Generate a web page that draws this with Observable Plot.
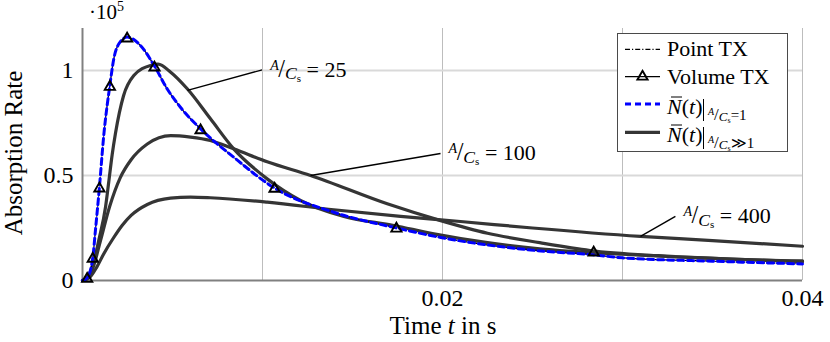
<!DOCTYPE html>
<html>
<head>
<meta charset="utf-8">
<script src="https://cdn.jsdelivr.net/npm/d3@7"></script>
<script src="https://cdn.jsdelivr.net/npm/@observablehq/plot@0.6"></script>
<style>
  html, body { margin: 0; padding: 0; background: #fff; }
  #wrap { position: relative; width: 830px; height: 342px; font-family: 'Liberation Serif', 'DejaVu Serif', serif; }
  #legend { position: absolute; left: 617px; top: 33px; width: 171px; height: 119px; }
  #wrap svg text { font-family: 'Liberation Serif', 'DejaVu Serif', serif; }
</style>
</head>
<body>
<div id="wrap"></div>
<script>
// ---------- data (values in units of 10^5) ----------
const xTicks = [0.02, 0.04];
const xGrid = [0.01, 0.02, 0.03, 0.04];
const yTicks = [0, 0.5, 1];
const yGrid = [0.5, 1];

// N(t) | A/Cs = 1 (blue dashed)
const blueT = [0, 0.00026, 0.00057, 0.00072, 0.00094, 0.00118, 0.00152, 0.00174, 0.00202, 0.00248, 0.0028, 0.00322, 0.004, 0.0047, 0.00544, 0.00656, 0.0084, 0.01067, 0.01396, 0.01744, 0.0199, 0.0249, 0.0284, 0.03, 0.035, 0.04];
const blueV = [0, 0.013, 0.108, 0.24, 0.444, 0.69, 0.929, 1.056, 1.127, 1.159, 1.15, 1.119, 1.021, 0.913, 0.825, 0.722, 0.587, 0.44, 0.325, 0.25, 0.205, 0.145, 0.122, 0.108, 0.092, 0.079];

// Point TX (dash-dot, underneath the blue curve)
const pointT = [0, 0.00026, 0.00057, 0.00072, 0.00094, 0.00118, 0.00152, 0.00174, 0.00202, 0.00248, 0.0028, 0.00322, 0.004, 0.0047, 0.00544, 0.00656, 0.0084, 0.01067, 0.01396, 0.01744, 0.0199, 0.0249, 0.0284, 0.03, 0.035, 0.04];
const pointV = [0, 0.013, 0.108, 0.24, 0.444, 0.69, 0.929, 1.056, 1.127, 1.159, 1.15, 1.119, 1.021, 0.913, 0.825, 0.722, 0.587, 0.44, 0.325, 0.25, 0.205, 0.145, 0.122, 0.108, 0.092, 0.079];

// Volume TX (triangle markers)
const volT = [0.00026, 0.00057, 0.00094, 0.00152, 0.00248, 0.0040, 0.00656, 0.01067, 0.01744, 0.0284];
const volV = [0.008, 0.103, 0.438, 0.922, 1.152, 1.014, 0.715, 0.437, 0.247, 0.133];

// N(t) | A/Cs >> 1, three ratios
const c25T = [0, 0.0003, 0.0006, 0.0009, 0.00128, 0.00146, 0.00165, 0.00183, 0.00228, 0.00285, 0.00378, 0.0042, 0.0049, 0.00582, 0.00711, 0.0084, 0.01026, 0.01211, 0.01452, 0.0173, 0.01952, 0.0225, 0.0254, 0.03, 0.035, 0.04];
const c25V = [0, 0.02, 0.08, 0.19, 0.35, 0.47, 0.6, 0.7, 0.88, 0.976, 1.024, 1.03, 0.992, 0.913, 0.77, 0.627, 0.484, 0.381, 0.305, 0.262, 0.222, 0.18, 0.151, 0.125, 0.105, 0.09];

const c100T = [0, 0.0003, 0.0006, 0.001, 0.0015, 0.0021, 0.0027, 0.0036, 0.0049, 0.006, 0.0071, 0.0084, 0.01026, 0.01267, 0.01693, 0.0199, 0.0225, 0.0254, 0.0282, 0.032, 0.036, 0.04];
const c100V = [0, 0.012, 0.065, 0.19, 0.35, 0.49, 0.575, 0.65, 0.69, 0.683, 0.667, 0.627, 0.565, 0.5, 0.365, 0.285, 0.225, 0.18, 0.143, 0.118, 0.102, 0.093];

const c400T = [0, 0.0004, 0.0008, 0.0012, 0.0017, 0.0022, 0.0027, 0.0036, 0.00489, 0.006, 0.0071, 0.01026, 0.01396, 0.01767, 0.021, 0.025, 0.031, 0.035, 0.04];
const c400V = [0, 0.015, 0.065, 0.13, 0.2, 0.262, 0.31, 0.362, 0.392, 0.397, 0.394, 0.373, 0.337, 0.305, 0.281, 0.25, 0.21, 0.19, 0.163];

// annotations: label, point on curve, end of leader line
const annLabel = ["25", "100", "400"];
const annCurveT = [0.00583, 0.01267, 0.031];
const annCurveV = [0.905, 0.5, 0.21];
const annTextT = [0.00998, 0.01989, 0.03294];
const annTextV = [1.003, 0.605, 0.305];

// ---------- build tables ----------
const rows = (T, V, k) => T.map((t, i) => ({t, v: V[i], k}));
const darkRows = [...rows(c25T, c25V, "25"), ...rows(c100T, c100V, "100"), ...rows(c400T, c400V, "400")];
const blueRows = rows(blueT, blueV, "blue");
const pointRows = rows(pointT, pointV, "point");
const volRows = rows(volT, volV, "vol");
const ann = annLabel.map((label, i) => ({label, ct: annCurveT[i], cv: annCurveV[i], tt: annTextT[i], tv: annTextV[i]}));

const FONT = "'Liberation Serif', 'DejaVu Serif', serif";

const plot = Plot.plot({
  width: 830,
  height: 342,
  marginLeft: 82,
  marginRight: 28,
  marginTop: 28,
  marginBottom: 62,
  x: {domain: [0, 0.04], label: null},
  y: {domain: [0, 1.2], label: null},
  style: {fontFamily: FONT, fontSize: "24px", background: "#fff", color: "#000", overflow: "visible"},
  marks: [
    Plot.gridX(xGrid, {stroke: "#bdbdbd", strokeOpacity: 1, strokeWidth: 1}),
    Plot.gridY(yGrid, {stroke: "#d9d9d9", strokeOpacity: 1, strokeWidth: 2}),
    Plot.ruleX([0], {stroke: "#808080", strokeWidth: 2}),
    Plot.ruleY([0], {stroke: "#808080", strokeWidth: 2}),
    Plot.axisX(xTicks, {tickSize: 0, tickPadding: 8, tickFormat: d => String(d), fontSize: 24, label: null}),
    Plot.axisY(yTicks, {tickSize: 0, tickPadding: 9, tickFormat: d => String(d), fontSize: 24, label: null}),
    Plot.line(darkRows, {x: "t", y: "v", z: "k", stroke: "#353535", strokeWidth: 3.2, curve: "monotone-x"}),
    Plot.link(ann, {x1: "ct", y1: "cv", x2: "tt", y2: "tv", stroke: "#000", strokeWidth: 1.4}),
    Plot.text(ann, {x: "tt", y: "tv", text: "label", textAnchor: "start", dx: 8, fontSize: 22}),
    Plot.line(pointRows, {x: "t", y: "v", stroke: "#000", strokeWidth: 1.2, strokeDasharray: "5,2,1.2,2", curve: "monotone-x"}),
    Plot.line(blueRows, {x: "t", y: "v", stroke: "#0000ff", strokeWidth: 3, strokeDasharray: "6,4", curve: "monotone-x"}),
    Plot.dot(volRows, {x: "t", y: "v", symbol: "triangle", r: 3.8, stroke: "#000", strokeWidth: 1.9, fill: "none"})
  ]
});

document.getElementById("wrap").appendChild(plot);
const svg = d3.select(plot);

// math-style ratio label "A/Cs = n"
function ratioLabel(sel, rest, size) {
  sel.text(null);
  sel.append("tspan").attr("font-style", "italic").attr("font-size", size * 0.64).attr("dy", -size * 0.32).text("A");
  sel.append("tspan").attr("font-size", size * 1.1).attr("dy", size * 0.32).attr("dx", -0.5).text("/");
  sel.append("tspan").attr("font-style", "italic").attr("font-size", size * 0.8).attr("dy", size * 0.1).text("C");
  sel.append("tspan").attr("font-size", size * 0.5).attr("dy", size * 0.12).text("s");
  sel.append("tspan").attr("font-size", size).attr("dy", -size * 0.22).text("\u00a0=\u00a0" + rest);
}
svg.selectAll('g[aria-label="text"] text').each(function () {
  const s = d3.select(this);
  ratioLabel(s, s.text(), 22);
});

// axis titles and scale factor
svg.append("text")
  .attr("transform", "translate(22,153) rotate(-90)")
  .attr("text-anchor", "middle").attr("font-size", 25).attr("fill", "#000")
  .text("Absorption Rate");
const xt = svg.append("text").attr("x", 443).attr("y", 334)
  .attr("text-anchor", "middle").attr("font-size", 25).attr("fill", "#000");
xt.append("tspan").text("Time ");
xt.append("tspan").attr("font-style", "italic").text("t");
xt.append("tspan").text(" in s");
const sf = svg.append("text").attr("x", 89).attr("y", 19).attr("text-anchor", "start").attr("font-size", 21).attr("fill", "#000");
sf.append("tspan").text("\u00b710");
sf.append("tspan").attr("font-size", 14).attr("dy", -8).text("5");

// ---------- legend (overlay) ----------
const leg = d3.select("#wrap").append("div").attr("id", "legend")
  .append("svg").attr("width", 171).attr("height", 119)
  .attr("text-anchor", "start")
  .style("font-family", FONT);
leg.append("rect").attr("x", 0.5).attr("y", 0.5).attr("width", 170).attr("height", 118)
  .attr("fill", "#fff").attr("stroke", "#4a4a4a").attr("stroke-width", 1);

const rowY = [16.3, 43.7, 71, 99.3];
const baseY = [23, 50.5, 81, 109];
// swatches
leg.append("line").attr("x1", 8).attr("x2", 43).attr("y1", rowY[0]).attr("y2", rowY[0])
  .attr("stroke", "#000").attr("stroke-width", 1.2).attr("stroke-dasharray", "5,2,1.2,2");
leg.append("line").attr("x1", 8).attr("x2", 43).attr("y1", rowY[1]).attr("y2", rowY[1])
  .attr("stroke", "#000").attr("stroke-width", 1.3);
leg.append("path").attr("transform", `translate(25.5,${rowY[1]})`)
  .attr("d", d3.symbol(d3.symbolTriangle, Math.PI * 3.8 * 3.8)())
  .attr("fill", "none").attr("stroke", "#000").attr("stroke-width", 1.9);
leg.append("line").attr("x1", 8).attr("x2", 43).attr("y1", rowY[2]).attr("y2", rowY[2])
  .attr("stroke", "#0000ff").attr("stroke-width", 3).attr("stroke-dasharray", "6,4");
leg.append("line").attr("x1", 8).attr("x2", 43).attr("y1", rowY[3]).attr("y2", rowY[3])
  .attr("stroke", "#353535").attr("stroke-width", 3.2);

// texts
leg.append("text").attr("x", 50).attr("y", baseY[0]).attr("font-size", 22).text("Point TX");
leg.append("text").attr("x", 50).attr("y", baseY[1]).attr("font-size", 22).text("Volume TX");

function nbar(i, rel) {
  const b = baseY[i];
  const t = leg.append("text").attr("x", 50).attr("y", b).attr("font-size", 22);
  t.append("tspan").attr("font-style", "italic").text("N");
  t.append("tspan").text("(");
  t.append("tspan").attr("font-style", "italic").text("t");
  t.append("tspan").text(")");
  leg.append("line").attr("x1", 54).attr("x2", 65).attr("y1", b - 17).attr("y2", b - 17)
    .attr("stroke", "#000").attr("stroke-width", 1);
  leg.append("line").attr("x1", 86.5).attr("x2", 86.5).attr("y1", b - 15).attr("y2", b + 7)
    .attr("stroke", "#000").attr("stroke-width", 1);
  const s = leg.append("text").attr("x", 91).attr("y", b + 6).attr("font-size", 15);
  s.append("tspan").attr("font-style", "italic").attr("font-size", 10).attr("dy", -5).text("A");
  s.append("tspan").attr("font-size", 17).attr("dy", 5).text("/");
  s.append("tspan").attr("font-style", "italic").attr("font-size", 13).attr("dy", 1).text("C");
  s.append("tspan").attr("font-size", 8).attr("dy", 1.5).text("s");
  s.append("tspan").attr("font-size", 15).attr("dy", -2.5).text(rel);
}
nbar(2, "=1");
nbar(3, "\u226B1");
</script>
</body>
</html>
